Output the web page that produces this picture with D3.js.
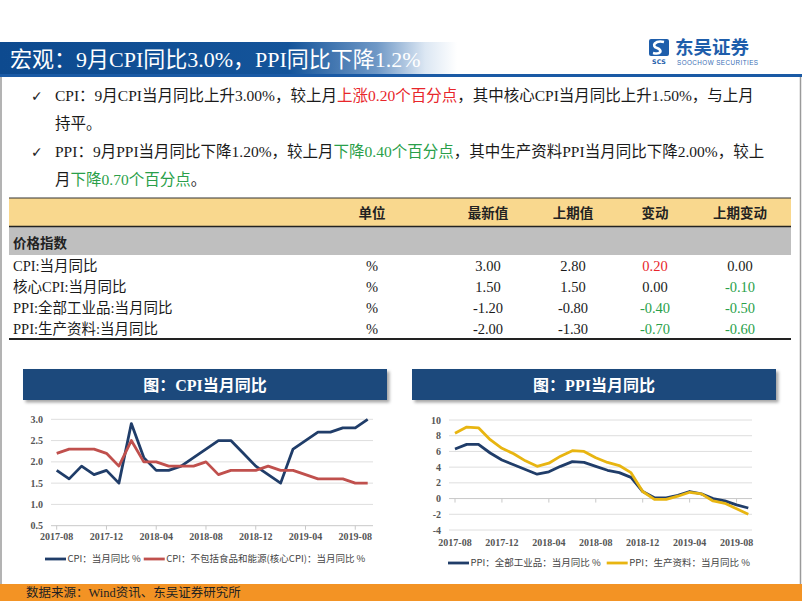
<!DOCTYPE html>
<html><head><meta charset="utf-8">
<script src="https://cdn.jsdelivr.net/npm/d3@7"></script>
<style>body{margin:0;background:#fff}svg{display:block}</style>
</head><body><svg id="c" width="802" height="602"></svg>
<script>
// ---------- DATA ----------
const months = ["2017-08","2017-09","2017-10","2017-11","2017-12","2018-01","2018-02","2018-03","2018-04","2018-05","2018-06","2018-07","2018-08","2018-09","2018-10","2018-11","2018-12","2019-01","2019-02","2019-03","2019-04","2019-05","2019-06","2019-07","2019-08","2019-09"];
const xTickLabels = ["2017-08","2017-12","2018-04","2018-08","2018-12","2019-04","2019-08"];
const cpiYoY     = [1.8,1.6,1.9,1.7,1.8,1.5,2.9,2.1,1.8,1.8,1.9,2.1,2.3,2.5,2.5,2.2,1.9,1.7,1.5,2.3,2.5,2.7,2.7,2.8,2.8,3.0];
const coreCpiYoY = [2.2,2.3,2.3,2.3,2.2,1.9,2.5,2.0,2.0,1.9,1.9,1.9,2.0,1.7,1.8,1.8,1.8,1.9,1.8,1.8,1.7,1.6,1.6,1.6,1.5,1.5];
const ppiAllYoY  = [6.3,6.9,6.9,5.8,4.9,4.3,3.7,3.1,3.4,4.1,4.7,4.6,4.1,3.6,3.3,2.7,0.9,0.1,0.1,0.4,0.9,0.6,0.0,-0.3,-0.8,-1.2];
const ppiProdYoY = [8.3,9.1,9.0,7.5,6.4,5.7,4.8,4.1,4.5,5.4,6.1,6.0,5.2,4.6,4.2,3.3,0.9,-0.1,-0.1,0.3,0.8,0.6,-0.3,-0.6,-1.3,-2.0];
const cpiTicks = [0.5,1.0,1.5,2.0,2.5,3.0];
const ppiTicks = [-4,-2,0,2,4,6,8,10];
const cpiSeriesNames = ["CPI：当月同比 %","CPI：不包括食品和能源(核心CPI)：当月同比 %"];
const ppiSeriesNames = ["PPI：全部工业品：当月同比 %","PPI：生产资料：当月同比 %"];

const tableHeader = ["单位","最新值","上期值","变动","上期变动"];
const tableGroup = "价格指数";
const rowNames = ["CPI:当月同比","核心CPI:当月同比","PPI:全部工业品:当月同比","PPI:生产资料:当月同比"];
const rowUnits = ["%","%","%","%"];
const latestVals = [3.00,1.50,-1.20,-2.00];
const prevVals   = [2.80,1.50,-0.80,-1.30];
const changeVals = [0.20,0.00,-0.40,-0.70];
const prevChangeVals = [0.00,-0.10,-0.50,-0.60];

const pageTitle = "宏观：9月CPI同比3.0%，PPI同比下降1.2%";
const bulletLines = [
  [["CPI：9月CPI当月同比上升3.00%，较上月","n"],["上涨0.20个百分点","r"],["，其中核心CPI当月同比上升1.50%，与上月","n"]],
  [["持平。","n"]],
  [["PPI：9月PPI当月同比下降1.20%，较上月","n"],["下降0.40个百分点","g"],["，其中生产资料PPI当月同比下降2.00%，较上","n"]],
  [["月","n"],["下降0.70个百分点","g"],["。","n"]]
];
const sourceText = "数据来源：Wind资讯、东吴证券研究所";

// ---------- STYLE ----------
const SERIF = "'Liberation Serif','Noto Sans CJK SC',serif";
const SANS = "'Noto Sans CJK SC','Noto Sans',sans-serif";
const NAVY = "#203d69", RED = "#c0504d", GOLD = "#e8b511";
const TXT_RED = "#e8262b", TXT_GREEN = "#2a9f4a";
const loc = d3.formatLocale({decimal:".",thousands:",",grouping:[3],currency:["",""],minus:"-"});

const svg = d3.select("#c");
const defs = svg.append("defs");

// header band gradient
const hg = defs.append("linearGradient").attr("id","hg").attr("x1","0").attr("x2","1").attr("y1","0").attr("y2","0");
[["0%","#0d4a8f"],["36%","#14549a"],["47%","#6f98c6"],["53%","#dce7f3"],["57%","#ffffff"],["100%","#ffffff"]].forEach(([o,c])=>hg.append("stop").attr("offset",o).attr("stop-color",c));
svg.append("rect").attr("x",0).attr("y",42).attr("width",802).attr("height",33).attr("fill","url(#hg)");
svg.append("rect").attr("x",0).attr("y",74).attr("width",802).attr("height",3).attr("fill","#1a5aa5");
svg.append("text").attr("x",10).attr("y",67).attr("fill","#fff").attr("font-family",SERIF).attr("font-size",22).text(pageTitle);

// logo
const lg = svg.append("g");
lg.append("rect").attr("x",649).attr("y",39).attr("width",20).attr("height",17).attr("rx",2).attr("fill","#1e5eab");
lg.append("path").attr("d","M664,42 C655,40 651,46 657,48 C663,50 661,55 653,53").attr("fill","none").attr("stroke","#fff").attr("stroke-width",2.6);
lg.append("text").attr("x",659).attr("y",64).attr("text-anchor","middle").attr("font-family","'DejaVu Sans',sans-serif").attr("font-weight","bold").attr("font-size",6.3).attr("fill","#1e5eab").text("SCS");
lg.append("text").attr("x",675).attr("y",53.5).attr("font-family",SANS).attr("font-weight","bold").attr("font-size",18.5).attr("fill","#1e5eab").text("东吴证券");
lg.append("text").attr("x",677).attr("y",64.5).attr("font-family","'Liberation Sans',sans-serif").attr("font-size",6.3).attr("fill","#3a6fb5").attr("textLength",81).text("SOOCHOW SECURITIES");

// outer border
svg.append("line").attr("x1",1).attr("x2",1).attr("y1",77).attr("y2",584).attr("stroke","#9a9a9a").attr("stroke-width",1.5);
svg.append("line").attr("x1",800.5).attr("x2",800.5).attr("y1",77).attr("y2",584).attr("stroke","#9a9a9a").attr("stroke-width",1.5);

// bullets
const bulletY = [101,129,157,185];
bulletLines.forEach((line,i)=>{
  if (i===0 || i===2) svg.append("text").attr("x",31).attr("y",bulletY[i]).attr("font-family","'DejaVu Sans',sans-serif").attr("font-size",14).attr("fill","#222").text("✓");
  const t = svg.append("text").attr("x",55).attr("y",bulletY[i]).attr("font-family",SERIF).attr("font-size",15.5).attr("fill","#1a1a1a");
  line.forEach(([s,c])=>{
    t.append("tspan").attr("fill", c==="r"?TXT_RED:c==="g"?TXT_GREEN:"#1a1a1a").text(s);
  });
});

// table
const tX0 = 9, tX1 = 791;
const colCenters = [372, 488, 573, 655, 740];
svg.append("rect").attr("x",tX0).attr("y",198).attr("width",tX1-tX0).attr("height",28).attr("fill","#f9d88e");
svg.append("line").attr("x1",tX0).attr("x2",tX1).attr("y1",198).attr("y2",198).attr("stroke","#333").attr("stroke-width",1);
svg.append("rect").attr("x",tX0).attr("y",227).attr("width",tX1-tX0).attr("height",28).attr("fill","#bfbfbf");
svg.append("line").attr("x1",tX0).attr("x2",tX1).attr("y1",226.5).attr("y2",226.5).attr("stroke","#222").attr("stroke-width",1.6);
tableHeader.forEach((h,i)=>{
  svg.append("text").attr("x",colCenters[i]).attr("y",218).attr("text-anchor","middle").attr("font-family",SANS).attr("font-weight","bold").attr("font-size",13.5).attr("fill","#222").text(h);
});
svg.append("text").attr("x",13).attr("y",248).attr("font-family",SANS).attr("font-weight","bold").attr("font-size",13.5).attr("fill","#222").text(tableGroup);
const rowY = d3.scalePoint().domain(rowNames).range([271,334]);
const fmt = loc.format(".2f");
const valColor = v => v>0?TXT_RED:(v<0?TXT_GREEN:"#1a1a1a");
rowNames.forEach((r,i)=>{
  const y = rowY(r);
  svg.append("text").attr("x",13).attr("y",y).attr("font-family",SERIF).attr("font-size",14.5).attr("fill","#1a1a1a").text(r);
  const cells = [[rowUnits[i],"#1a1a1a"],[fmt(latestVals[i]),"#1a1a1a"],[fmt(prevVals[i]),"#1a1a1a"],[fmt(changeVals[i]),valColor(changeVals[i])],[fmt(prevChangeVals[i]),valColor(prevChangeVals[i])]];
  cells.forEach(([s,c],j)=>{
    svg.append("text").attr("x",colCenters[j]).attr("y",y).attr("text-anchor","middle").attr("font-family",SERIF).attr("font-size",14.5).attr("fill",c).text(s);
  });
});
svg.append("line").attr("x1",tX0).attr("x2",tX1).attr("y1",339).attr("y2",339).attr("stroke","#222").attr("stroke-width",1.8);

// charts
const sh = defs.append("filter").attr("id","sh").attr("x","-5%").attr("y","-20%").attr("width","115%").attr("height","160%");
sh.append("feDropShadow").attr("dx",2.5).attr("dy",2.5).attr("stdDeviation",1.5).attr("flood-color","#000").attr("flood-opacity",0.35);

function chart(o){
  const g = svg.append("g");
  g.append("rect").attr("x",o.bx).attr("y",369).attr("width",o.bw).attr("height",31).attr("fill","#1f4a7c").attr("filter","url(#sh)");
  g.append("text").attr("x",o.bx+o.bw/2).attr("y",391).attr("text-anchor","middle").attr("fill","#fff").attr("font-family",SERIF).attr("font-weight","bold").attr("font-size",16).text(o.title);
  const x = d3.scalePoint().domain(months).range([o.x0,o.x1]);
  const y = d3.scaleLinear().domain(d3.extent(o.ticks)).range([o.yb,o.yt]);
  o.ticks.forEach(t=>{
    g.append("line").attr("x1",o.gx0).attr("x2",o.gx1).attr("y1",y(t)).attr("y2",y(t)).attr("stroke", t===o.axisAt?"#c8c8c8":"#dedede").attr("stroke-width",1);
    g.append("text").attr("x",o.lx).attr("y",y(t)+3.5).attr("text-anchor","end").attr("font-family",SERIF).attr("font-weight","bold").attr("font-size",10).attr("fill","#555").text(o.tf(t));
  });
  xTickLabels.forEach(m=>{
    g.append("line").attr("x1",x(m)).attr("x2",x(m)).attr("y1",y(o.axisAt)).attr("y2",y(o.axisAt)+4).attr("stroke","#c8c8c8");
    g.append("text").attr("x",x(m)).attr("y",o.xly).attr("text-anchor","middle").attr("font-family",SERIF).attr("font-weight","bold").attr("font-size",10).attr("fill","#555").text(m);
  });
  const line = d3.line().x((d,i)=>x(months[i])).y(d=>y(d));
  o.series.forEach((s,k)=>{
    g.append("path").datum(s).attr("d",line).attr("fill","none").attr("stroke",o.colors[k]).attr("stroke-width",2.8).attr("stroke-linejoin","round");
  });
  // legend
  let lx = o.legX;
  o.names.forEach((n,k)=>{
    g.append("line").attr("x1",lx).attr("x2",lx+21).attr("y1",o.legY).attr("y2",o.legY).attr("stroke",o.colors[k]).attr("stroke-width",2.8);
    const t = g.append("text").attr("x",lx+22.5).attr("y",o.legY+3.3).attr("font-family",SANS).attr("font-size",9.5).attr("fill","#444").text(n);
    lx = lx + 22.5 + t.node().getComputedTextLength() + o.legGap;
  });
}
chart({bx:23,bw:364,title:"图：CPI当月同比",x0:56.7,x1:367.7,gx0:51,gx1:373,yt:419.3,yb:525.7,ticks:cpiTicks,axisAt:0.5,lx:43,xly:540,
  tf:loc.format(".1f"),series:[cpiYoY,coreCpiYoY],colors:[NAVY,RED],names:cpiSeriesNames,legX:45,legY:559,legGap:3});
chart({bx:412,bw:364,title:"图：PPI当月同比",x0:455,x1:748.3,gx0:449,gx1:752,yt:420,yb:530,ticks:ppiTicks,axisAt:0,lx:441,xly:546,
  tf:loc.format("d"),series:[ppiAllYoY,ppiProdYoY],colors:[NAVY,GOLD],names:ppiSeriesNames,legX:448,legY:563,legGap:6});

// footer
svg.append("rect").attr("x",0).attr("y",584).attr("width",802).attr("height",17).attr("fill","#f39324");
svg.append("text").attr("x",26).attr("y",596.5).attr("font-family",SERIF).attr("font-size",12.5).attr("fill","#222").text(sourceText);
</script></body></html>
